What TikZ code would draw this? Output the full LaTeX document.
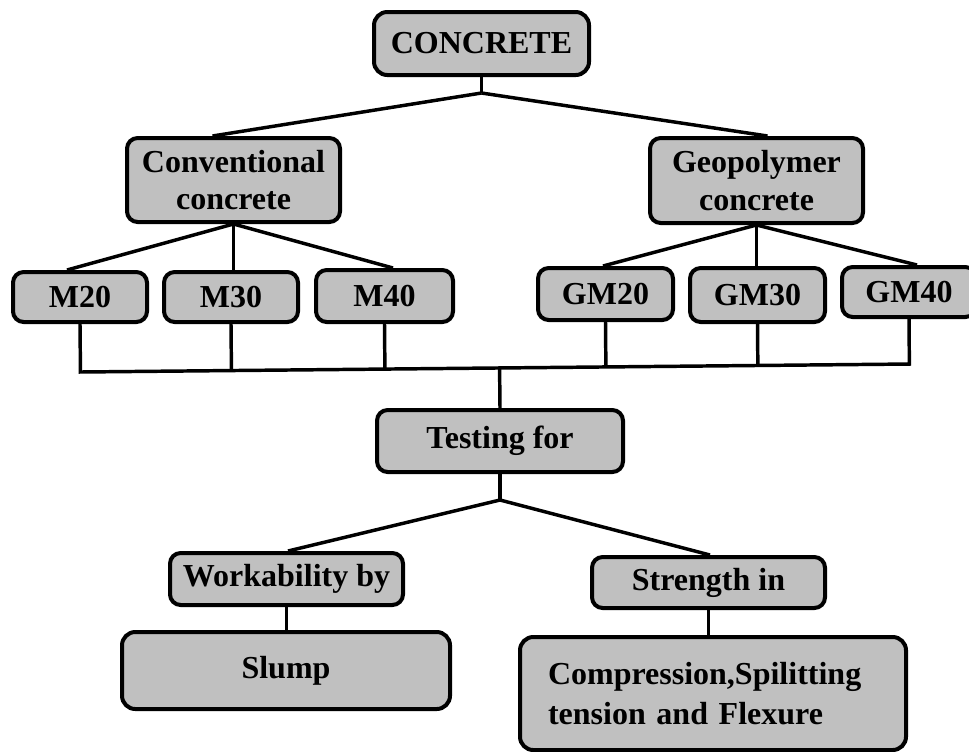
\documentclass[tikz,border=0pt]{standalone}
\usepackage{fontspec}
\setmainfont{Liberation Serif}
\usetikzlibrary{calc}
\definecolor{boxgray}{RGB}{192,192,192}
\begin{document}
\begin{tikzpicture}[x=0.75pt,y=-0.75pt,
  bx/.style={draw=black, line width=3pt, fill=boxgray, rounded corners=8pt,
    inner sep=0pt, font=\fontsize{24}{28}\selectfont\bfseries, align=center},
  ln/.style={line width=2.6pt, line join=miter}]
\useasboundingbox (0,0) rectangle (969,751);
\clip (0,0) rectangle (969,751);

% nodes
\node[bx, rounded corners=10pt, minimum width={215*0.75pt}, minimum height={63*0.75pt}] (concrete) at (481.5,43.5) {CONCRETE};
\node[bx, minimum width={213*0.75pt}, minimum height={84*0.75pt}] (conv) at (233.5,180) {Conventional\\concrete};
\node[bx, minimum width={213*0.75pt}, minimum height={85*0.75pt}] (geo) at (756.5,180.5) {Geopolymer\\concrete};

\node[bx, minimum width={134*0.75pt}, minimum height={50*0.75pt}] (m20) at (80,297) {M20};
\node[bx, minimum width={134*0.75pt}, minimum height={50*0.75pt}] (m30) at (231,297) {M30};
\node[bx, minimum width={137*0.75pt}, minimum height={52*0.75pt}] (m40) at (384.5,296) {M40};
\node[bx, minimum width={135*0.75pt}, minimum height={52*0.75pt}] (gm20) at (605.5,294) {GM20};
\node[bx, minimum width={135*0.75pt}, minimum height={54*0.75pt}] (gm30) at (757.5,295) {GM30};
\node[bx, minimum width={134*0.75pt}, minimum height={50*0.75pt}] (gm40) at (909,292) {GM40};

\node[bx, minimum width={246*0.75pt}, minimum height={62*0.75pt}] (test) at (500,441) {Testing for};
\node[bx, minimum width={233*0.75pt}, minimum height={52*0.75pt}] (work) at (286.5,579) {Workability by};
\node[bx, minimum width={233*0.75pt}, minimum height={51*0.75pt}] (str) at (708.5,582.5) {Strength in};
\node[bx, rounded corners=10pt, minimum width={328*0.75pt}, minimum height={77*0.75pt}] (slump) at (286,670.5) {Slump};
\node[bx, rounded corners=10pt, align=left, text width={330*0.75pt}, minimum width={386*0.75pt}, minimum height={113*0.75pt}, font=\fontsize{24}{30}\selectfont\bfseries] (comp) at (713,693.5) {Compression,Spilitting\\tension and Flexure};

% connectors: concrete
\draw[ln] (concrete.south) -- ++(0,16) coordinate (j1);
\draw[ln] (j1) -- ($(conv.north)+(-21,0)$);
\draw[ln] (j1) -- ($(geo.north)+(11,0)$);

% conventional branches
\draw[ln] (conv.south) -- ($(m20.north)+(-13,0)$);
\draw[ln] (conv.south) -- (conv.south |- m30.north);
\draw[ln] (conv.south) -- ($(m40.north)+(8.5,0)$);

% geopolymer branches
\draw[ln] (geo.south) -- ($(gm20.north)+(-2.5,0)$);
\draw[ln] (geo.south) -- (geo.south |- gm30.north);
\draw[ln] (geo.south) -- ($(gm40.north)+(8,0)$);

% bus
\coordinate (bl) at (80,372);
\coordinate (br) at (909,364);
\draw[ln] (m20.south) -- ($(bl)!(m20.south)!(br)$) -- ($(bl)!(gm40.south)!(br)$) -- (gm40.south);
\foreach \n in {m30,m40,gm20,gm30} {
  \draw[ln] (\n.south) -- ($(bl)!(\n.south)!(br)$);
}
\draw[ln] ($(bl)!(test.north)!(br)$) -- (test.north);

% testing branches
\draw[ln] (test.south) -- ++(0,26) coordinate (j2);
\draw[ln] (j2) -- ($(work.north)+(1.5,0)$);
\draw[ln] (j2) -- ($(str.north)+(1.5,0)$);
\draw[ln] (work.south) -- (work.south |- slump.north);
\draw[ln] (str.south) -- (str.south |- comp.north);
\end{tikzpicture}
\end{document}
